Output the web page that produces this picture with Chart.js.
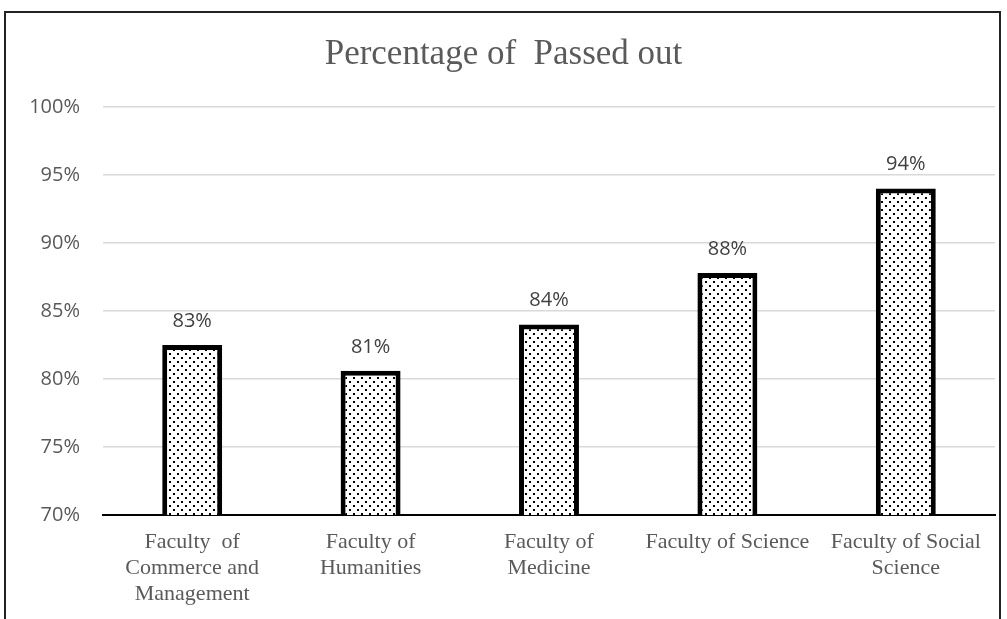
<!DOCTYPE html>
<html>
<head>
<meta charset="utf-8">
<script src="https://cdn.jsdelivr.net/npm/chart.js@4/dist/chart.umd.min.js"></script>
<style>
  body { margin: 0; background: #fff; }
  #wrap { position: relative; width: 1007px; height: 619px; overflow: hidden; }
  #frame { position: absolute; left: 4px; top: 11px; width: 997px; height: 640px; border: 2px solid #222; box-sizing: border-box; }
  #myChart { position: absolute; left: 0; top: 0; }
</style>
</head>
<body>
<div id="wrap">
  <div id="frame"></div>
  <canvas id="myChart" width="1007" height="619"></canvas>
</div>
<script>
// du lieu doc tu hinh
const faculties = [
  ["Faculty  of", "Commerce and", "Management"],
  ["Faculty of", "Humanities"],
  ["Faculty of", "Medicine"],
  "Faculty of Science",
  ["Faculty of Social", "Science"]
]
const passedPct = [82.5, 80.6, 84.0, 87.8, 94.0]
const yMin = 70
const yMax = 100
const yStep = 5

// hoa tiet cham cho cot
function dotPattern() {
  const c = document.createElement("canvas")
  c.width = 8
  c.height = 8
  const g = c.getContext("2d")
  g.fillStyle = "#fff"
  g.fillRect(0, 0, 8, 8)
  g.fillStyle = "#000"
  g.fillRect(1, 1, 2, 2)
  g.fillRect(5, 5, 2, 2)
  return g.createPattern(c, "repeat")
}

// nhan gia tri tren dau cot
const valueLabels = {
  id: "valueLabels",
  afterDatasetsDraw(chart) {
    const ctx = chart.ctx
    const meta = chart.getDatasetMeta(0)
    ctx.save()
    ctx.font = "20px 'Open Sans', 'Liberation Sans', sans-serif"
    ctx.fillStyle = "#404040"
    ctx.textAlign = "center"
    ctx.textBaseline = "middle"
    meta.data.forEach((bar, i) => {
      ctx.fillText(Math.round(passedPct[i]) + "%", bar.x, bar.y - 24)
    })
    ctx.restore()
  }
}

const chart = new Chart("myChart", {
  type: "bar",
  data: {
    labels: faculties,
    datasets: [{
      data: passedPct,
      backgroundColor: dotPattern(),
      borderColor: "#000",
      borderWidth: 5,
      borderSkipped: false,
      barPercentage: 0.336,
      categoryPercentage: 1
    }]
  },
  options: {
    responsive: false,
    animation: false,
    layout: { padding: { left: 12, right: 12, top: 0, bottom: 0 } },
    plugins: {
      legend: { display: false },
      tooltip: { enabled: false },
      title: {
        display: true,
        text: "Percentage of  Passed out",
        color: "#5a5a5a",
        font: { family: "'Liberation Serif', 'DejaVu Serif', serif", size: 35, weight: "normal", lineHeight: 1.2 },
        padding: { top: 34, bottom: 31 }
      }
    },
    scales: {
      x: {
        grid: { display: false, drawTicks: false },
        border: { display: true, color: "#000", width: 2 },
        ticks: {
          color: "#5a5a5a",
          padding: 14,
          maxRotation: 0,
          autoSkip: false,
          font: { family: "'Liberation Serif', 'DejaVu Serif', serif", size: 22, lineHeight: "26px" }
        },
        afterFit(scale) { scale.height = 104 }
      },
      y: {
        min: yMin,
        max: yMax,
        grid: { color: "#d9d9d9", lineWidth: 1.5, drawTicks: false },
        border: { display: false },
        ticks: {
          stepSize: yStep,
          color: "#595959",
          padding: 23,
          font: { family: "'Open Sans', 'Liberation Sans', sans-serif", size: 20 },
          callback: v => v + "%"
        },
        afterFit(scale) { scale.width = 91 }
      }
    }
  },
  plugins: [valueLabels]
})
</script>
</body>
</html>
